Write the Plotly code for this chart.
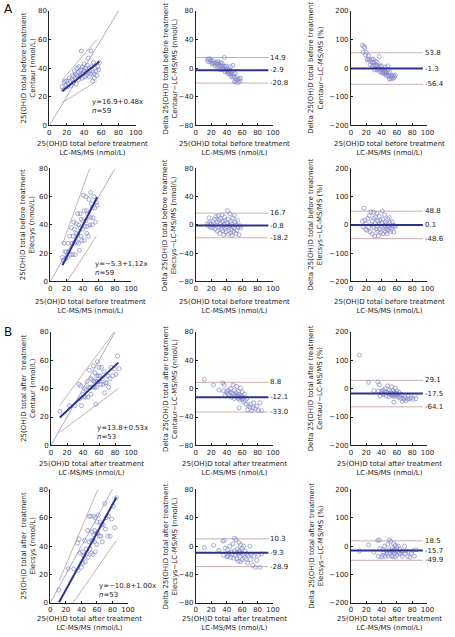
import plotly.graph_objects as go

W, H = 455, 637

# ---------------- data: before treatment (n=59) ----------------
lc_before = [15, 16, 17, 18, 19, 20, 21, 22, 23, 24, 25, 26, 27, 28, 28, 29, 30, 30, 31, 32,
             32, 33, 34, 34, 35, 35, 36, 37, 37, 38, 38, 39, 40, 40, 41, 42, 42, 43, 44, 44,
             45, 45, 46, 46, 47, 48, 48, 49, 50, 50, 51, 52, 52, 53, 54, 55, 56, 57, 58]
centaur_before = [27, 25, 30, 31, 28, 31, 27, 29, 33, 31, 28, 32, 35, 30, 34, 38, 33, 36, 29, 35,
                  40, 37, 32, 41, 34, 38, 35, 52, 39, 33, 41, 36, 38, 43, 34, 37, 40, 35, 39, 42,
                  37, 47, 34, 40, 38, 52, 36, 41, 31, 37, 44, 36, 33, 40, 38, 35, 41, 39, 44]
diff_centaur_before = [12, 9, 13, 13, 9, 11, 6, 7, 10, 7, 3, 6, 8, 2, 6, 9, 3, 6, -2, 3,
                       8, 4, -2, 7, -1, 3, -1, 15, 2, -5, 3, -3, -2, 3, -7, -5, -2, -8, -5, -2,
                       -8, 2, -12, -6, -9, 4, -12, -8, -19, -13, -7, -16, -19, -13, -16, -20, -15, -18, -14]
pct_centaur_before = [80, 56, 76, 72, 47, 55, 29, 32, 43, 29, 12, 23, 30, 7, 21, 31, 10, 20, -6, 9,
                      25, 12, -6, 21, -3, 9, -3, 41, 5, -13, 8, -8, -5, 8, -17, -12, -5, -19, -11, -5,
                      -18, 4, -26, -13, -19, 8, -25, -16, -38, -26, -14, -31, -37, -25, -30, -36, -27, -32, -24]
elecsys_before = [17, 15, 27, 21, 16, 21, 17, 27, 21, 32, 19, 38, 27, 19, 32, 42, 27, 37, 19, 34,
                  41, 28, 33, 48, 27, 40, 22, 48, 38, 32, 44, 29, 43, 37, 61, 29, 50, 39, 60, 43,
                  34, 50, 39, 48, 32, 58, 46, 40, 63, 45, 55, 40, 52, 45, 60, 52, 42, 56, 54]
diff_elecsys_before = [2, -1, 10, 3, -3, 1, -4, 5, -2, 8, -6, 12, 0, -9, 4, 13, -3, 7, -12, 2,
                       9, -5, -1, 14, -8, 5, -14, 11, 1, -6, 6, -10, 3, -3, 20, -13, 8, -4, 16, -1,
                       -11, 5, -7, 2, -15, 10, -2, -9, 13, -5, 4, -12, 0, -8, 6, -3, -14, -1, -4]
pct_elecsys_before = [13, -6, 59, 17, -16, 5, -19, 23, -9, 33, -24, 46, 0, -32, 14, 45, -10, 23, -39, 6,
                      28, -15, -3, 41, -23, 14, -39, 30, 3, -16, 16, -26, 8, -8, 49, -31, 19, -9, 36, -2,
                      -24, 11, -15, 4, -32, 21, -4, -18, 26, -10, 8, -23, 0, -15, 11, -5, -25, -2, -7]

# ---------------- data: after treatment (n=53) ----------------
lc_after = [11, 23, 30, 35, 36, 37, 38, 40, 41, 42, 43, 44, 45, 46, 47, 48, 49, 50, 50, 51,
            52, 53, 53, 54, 55, 55, 56, 56, 57, 57, 58, 58, 59, 60, 60, 61, 62, 63, 64, 65,
            66, 67, 68, 70, 71, 72, 74, 75, 77, 79, 81, 83, 85]
centaur_after = [24, 28, 28, 43, 33, 42, 28, 36, 34, 40, 34, 39, 45, 34, 41, 53, 41, 47, 36, 41,
                 46, 41, 56, 45, 41, 51, 45, 29, 49, 41, 45, 59, 49, 45, 55, 49, 43, 55, 47, 43,
                 52, 37, 44, 44, 49, 41, 47, 55, 49, 54, 50, 63, 54]
diff_centaur_after = [13, 5, -2, 8, -3, 5, -10, -4, -7, -2, -9, -5, 0, -12, -6, 5, -8, -3, -14, -10,
                      -6, -12, 3, -9, -14, -4, -11, -27, -8, -16, -13, 1, -10, -15, -5, -12, -19, -8, -17, -22,
                      -14, -30, -24, -26, -22, -31, -27, -20, -28, -25, -31, -20, -31]
pct_centaur_after = [118, 22, -7, 23, -8, 14, -26, -10, -17, -5, -21, -11, 0, -26, -13, 10, -16, -6, -28, -20,
                     -12, -23, 6, -17, -25, -7, -20, -48, -14, -28, -22, 2, -17, -25, -8, -20, -31, -13, -27, -34,
                     -21, -45, -35, -37, -31, -43, -36, -27, -36, -32, -38, -24, -36]
elecsys_after = [9, 24, 24, 42, 23, 45, 35, 25, 36, 28, 33, 44, 29, 38, 35, 51, 32, 61, 43, 38,
                 61, 44, 35, 50, 44, 34, 48, 61, 43, 51, 36, 60, 49, 41, 57, 49, 62, 47, 57, 47,
                 55, 43, 55, 70, 52, 60, 47, 61, 47, 59, 68, 53, 74]
diff_elecsys_after = [-2, 1, -6, 7, -13, 8, -3, -15, -5, -14, -10, 0, -16, -8, -12, 3, -17, 11, -7, -13,
                      9, -9, -18, -4, -11, -21, -8, 5, -14, -6, -22, 2, -10, -19, -3, -12, 0, -16, -7, -18,
                      -11, -24, -13, 0, -19, -12, -27, -14, -30, -20, -13, -30, -11]
pct_elecsys_after = [-18, 4, -20, 20, -36, 22, -8, -38, -12, -33, -23, 0, -36, -17, -26, 6, -35, 22, -14, -25,
                     17, -17, -34, -7, -20, -38, -14, 9, -25, -11, -38, 3, -17, -32, -5, -20, 0, -25, -11, -28,
                     -17, -36, -19, 0, -27, -17, -36, -19, -39, -25, -16, -36, -13]

# ---------------- method-comparison lines ----------------
identity_x = [0, 80]
identity_y = [0, 80]
fit_cb_x, fit_cb_y = [15, 58], [24.1, 44.7]
upper_cb_x, upper_cb_y = [15, 55], [32, 60]
lower_cb_x, lower_cb_y = [15, 55], [16, 31]
fit_eb_x, fit_eb_y = [15, 58], [11.5, 59.7]
upper_eb_x, upper_eb_y = [15, 48.8], [26.3, 80]
lower_eb_x, lower_eb_y = [20.8, 56.8], [0, 32]
fit_ca_x, fit_ca_y = [11, 84], [19.6, 58.3]
upper_ca_x, upper_ca_y = [11, 79], [28.3, 80]
lower_ca_x, lower_ca_y = [11, 84], [9.2, 40]
fit_ea_x, fit_ea_y = [11.3, 85], [0.5, 74.2]
upper_ea_x, upper_ea_y = [11.3, 61.3], [15.4, 80]
lower_ea_x, lower_ea_y = [29.2, 85], [0, 43.8]
equations = ["y=16.9+0.48x<br><i>n</i>=59", "y=−5.3+1.12x<br><i>n</i>=59",
             "y=13.8+0.53x<br><i>n</i>=53", "y=−10.8+1.00x<br><i>n</i>=53"]

# Bland-Altman: upper limit, mean, lower limit
ba_line_x = [0, 94]
ba_abs = [[14.9, -2.9, -20.8], [16.7, -0.8, -18.2], [8.8, -12.1, -33.0], [10.3, -9.3, -28.9]]
ba_pct = [[53.8, -1.3, -56.4], [48.8, 0.1, -48.6], [29.1, -17.5, -64.1], [18.5, -15.7, -49.9]]

x_ticks_vals = [0, 20, 40, 60, 80, 100]
y1_ticks = [0, 20, 40, 60, 80]
y2_ticks = [-80, -40, 0, 40, 80]
y3_ticks = [-200, -100, 0, 100, 200]

# ---------------- styling ----------------
FONT = "DejaVu Sans"
FS = 7
MARK = "#8587c9"
FIT = "#2e3190"
BAND = "#c9b0b0"
IDEN = "#aaaad8"

rows_pix = [(7, 123), (166.5, 281), (332, 447), (491.5, 606.5)]
col1_pix = [(48.3, 136.5), (49.3, 131.7), (50, 131.7), (49.3, 128.5)]
col2_pix = (197.7, 276.5)
col3_pix = (356, 434)
xtitle_y = [146, 306, 470.5, 627.5]

phase = ["before", "before", "after", "after"]
method = ["Centaur", "Elecsys", "Centaur", "Elecsys"]

col1_data = [(lc_before, centaur_before), (lc_before, elecsys_before),
             (lc_after, centaur_after), (lc_after, elecsys_after)]
col2_data = [(lc_before, diff_centaur_before), (lc_before, diff_elecsys_before),
             (lc_after, diff_centaur_after), (lc_after, diff_elecsys_after)]
col3_data = [(lc_before, pct_centaur_before), (lc_before, pct_elecsys_before),
             (lc_after, pct_centaur_after), (lc_after, pct_elecsys_after)]
lines1 = [
    [(fit_cb_x, fit_cb_y), (upper_cb_x, upper_cb_y), (lower_cb_x, lower_cb_y)],
    [(fit_eb_x, fit_eb_y), (upper_eb_x, upper_eb_y), (lower_eb_x, lower_eb_y)],
    [(fit_ca_x, fit_ca_y), (upper_ca_x, upper_ca_y), (lower_ca_x, lower_ca_y)],
    [(fit_ea_x, fit_ea_y), (upper_ea_x, upper_ea_y), (lower_ea_x, lower_ea_y)],
]
eq_pos = [(90, 104), (93.3, 267.5), (95, 434), (96.7, 594)]

fig = go.Figure()
layout = dict(width=W, height=H, margin=dict(l=0, r=0, t=0, b=0),
              paper_bgcolor="white", plot_bgcolor="white", showlegend=False,
              font=dict(family=FONT, size=FS, color="#222"))
annotations = []


def px_x(p):
    return p / W


def px_y(p):
    return 1 - p / H


def axis_common():
    return dict(showgrid=False, zeroline=False, showline=True, linecolor="#222", linewidth=1,
                ticks="inside", ticklen=2, tickcolor="#222", tickwidth=1,
                tickfont=dict(family=FONT, size=FS, color="#222"))


idx = 0
for r in range(4):
    top, bot = rows_pix[r]
    cols = [col1_pix[r], col2_pix, col3_pix]
    for c in range(3):
        idx += 1
        xa = "x" if idx == 1 else f"x{idx}"
        ya = "y" if idx == 1 else f"y{idx}"
        xkey = "xaxis" if idx == 1 else f"xaxis{idx}"
        ykey = "yaxis" if idx == 1 else f"yaxis{idx}"
        x0, x1 = cols[c]
        xd = axis_common()
        xd.update(domain=[px_x(x0), px_x(x1)], range=[0, 100], tickvals=x_ticks_vals,
                  anchor=ya)
        yd = axis_common()
        if c == 0:
            yr, yt = [0, 80], y1_ticks
        elif c == 1:
            yr, yt = [-80, 80], y2_ticks
        else:
            yr, yt = [-200, 200], y3_ticks
        yd.update(domain=[px_y(bot), px_y(top)], range=yr, tickvals=yt, anchor=xa)
        layout[xkey] = xd
        layout[ykey] = yd

        if c == 0:
            fig.add_trace(go.Scatter(x=identity_x, y=identity_y, mode="lines",
                                     line=dict(color=IDEN, width=1), xaxis=xa, yaxis=ya))
            fitl, up, lo = lines1[r]
            for lx, ly in (up, lo):
                fig.add_trace(go.Scatter(x=lx, y=ly, mode="lines",
                                         line=dict(color=BAND, width=1), xaxis=xa, yaxis=ya))
            px_, py_ = col1_data[r]
            fig.add_trace(go.Scatter(x=px_, y=py_, mode="markers", cliponaxis=False,
                                     marker=dict(symbol="circle-open", size=4, color=MARK,
                                                 line=dict(width=0.7)),
                                     xaxis=xa, yaxis=ya))
            fig.add_trace(go.Scatter(x=fitl[0], y=fitl[1], mode="lines",
                                     line=dict(color=FIT, width=2), xaxis=xa, yaxis=ya))
            ex, ey = eq_pos[r]
            annotations.append(dict(text=equations[r], x=px_x(ex), y=px_y(ey), xref="paper",
                                    yref="paper", xanchor="left", yanchor="middle", align="left",
                                    showarrow=False, font=dict(family=FONT, size=FS, color="#222")))
            ytxt = f"25(OH)D total {phase[r]}{'  ' if phase[r] == 'after' else ' '}treatment<br>{method[r]} (nmol/L)"
            ytx = 26.8
        else:
            vals = ba_abs[r] if c == 1 else ba_pct[r]
            dat = col2_data[r] if c == 1 else col3_data[r]
            for k, v in enumerate(vals):
                if k == 1:
                    continue
                fig.add_trace(go.Scatter(x=ba_line_x, y=[v, v], mode="lines",
                                         line=dict(color=BAND, width=1), xaxis=xa, yaxis=ya))
            fig.add_trace(go.Scatter(x=dat[0], y=dat[1], mode="markers", cliponaxis=False,
                                     marker=dict(symbol="circle-open", size=4, color=MARK,
                                                 line=dict(width=0.7)),
                                     xaxis=xa, yaxis=ya))
            fig.add_trace(go.Scatter(x=ba_line_x, y=[vals[1], vals[1]], mode="lines",
                                     line=dict(color=FIT, width=2), xaxis=xa, yaxis=ya))
            for v in vals:
                lab = f"{v:.1f}"
                annotations.append(dict(text=lab, x=95, y=v, xref=xa, yref=ya, xanchor="left",
                                        yanchor="middle", showarrow=False, xshift=-1,
                                        font=dict(family=FONT, size=FS, color="#222")))
            unit = "(nmol/L)" if c == 1 else "(%)"
            ytxt = f"Delta 25(OH)D total {phase[r]} treatment<br>{method[r]}−LC-MS/MS {unit}"
            ytx = 171.7 if c == 1 else 320
        annotations.append(dict(text=ytxt, x=px_x(ytx), y=px_y((top + bot) / 2), xref="paper",
                                yref="paper", textangle=-90, xanchor="center", yanchor="middle",
                                showarrow=False, font=dict(family=FONT, size=FS, color="#222")))
        annotations.append(dict(text=f"25(OH)D total {phase[r]} treatment<br>LC-MS/MS (nmol/L)",
                                x=px_x((x0 + x1) / 2), y=px_y(xtitle_y[r]), xref="paper",
                                yref="paper", xanchor="center", yanchor="middle",
                                showarrow=False, font=dict(family=FONT, size=FS, color="#222")))

annotations.append(dict(text="A", x=px_x(0), y=px_y(5), xref="paper", yref="paper",
                        xanchor="left", yanchor="middle", showarrow=False,
                        font=dict(family=FONT, size=12, color="#111")))
annotations.append(dict(text="B", x=px_x(0), y=px_y(332), xref="paper", yref="paper",
                        xanchor="left", yanchor="middle", showarrow=False,
                        font=dict(family=FONT, size=12, color="#111")))
layout["annotations"] = annotations
fig.update_layout(**layout)
fig.write_html("out.html", config={"displayModeBar": False},
               post_script="document.body.style.margin='0';document.body.style.padding='0';")
